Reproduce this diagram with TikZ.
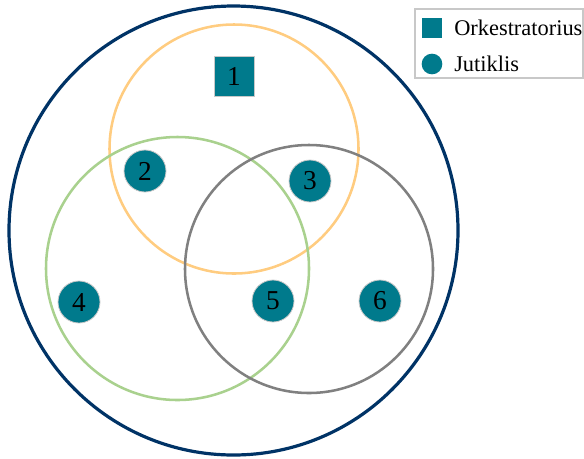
\documentclass[tikz,border=0pt]{standalone}
\usepackage{fontspec}
\setmainfont{Liberation Serif}
\usetikzlibrary{positioning}

\definecolor{outerblue}{HTML}{003366}
\definecolor{setorange}{HTML}{FFCC80}
\definecolor{setgreen}{HTML}{A9D18E}
\definecolor{setgray}{HTML}{808080}
\definecolor{nodeteal}{HTML}{007A8C}
\definecolor{rimgray}{HTML}{C8C8C8}

\tikzset{
  orch/.style={rectangle,fill=nodeteal,draw=rimgray,line width=0.6pt,minimum size=30pt,inner sep=0pt,font=\fontsize{20.5}{22}\selectfont},
  sensor/.style={circle,fill=nodeteal,draw=rimgray,line width=0.6pt,minimum size=31.5pt,inner sep=0pt,font=\fontsize{20.5}{22}\selectfont},
  legorch/.style={rectangle,fill=nodeteal,minimum size=15pt,inner sep=0pt},
  legsensor/.style={circle,fill=nodeteal,minimum size=15.5pt,inner sep=0pt},
  legtext/.style={anchor=west,inner sep=0pt,font=\fontsize{16.8}{18}\selectfont}
}

\begin{document}
\begin{tikzpicture}[x=0.75pt,y=-0.75pt]
  \useasboundingbox (0,0) rectangle (584,458);
  % sets
  \draw[outerblue,line width=2.4pt] (233.5,230.5) circle (224.5);
  \draw[setorange,line width=1.9pt] (234,149) circle (124.5);
  \draw[setgreen,line width=1.9pt] (177.5,268.5) circle (131.5);
  \draw[setgray,line width=1.9pt] (309,269) circle (124);

  % devices
  \node[orch] (n1) at (234,76) {1};
  \node[sensor] (n2) at (145,171) {2};
  \node[sensor] (n3) at (310,181) {3};
  \node[sensor] (n4) at (79,302) {4};
  \node[sensor] (n5) at (273,301) {5};
  \node[sensor] (n6) at (380,301) {6};

  % legend
  \draw[rimgray,line width=1.5pt,fill=white] (415,9) rectangle (583,78);
  \node[legorch] (legsq) at (432,28) {};
  \node[legsensor] (legci) at (432,64) {};
  \node[legtext] (legsqtext) at (454,28) {Orkestratorius};
  \node[legtext] (legcitext) at (454,64) {Jutiklis};
\end{tikzpicture}
\end{document}
